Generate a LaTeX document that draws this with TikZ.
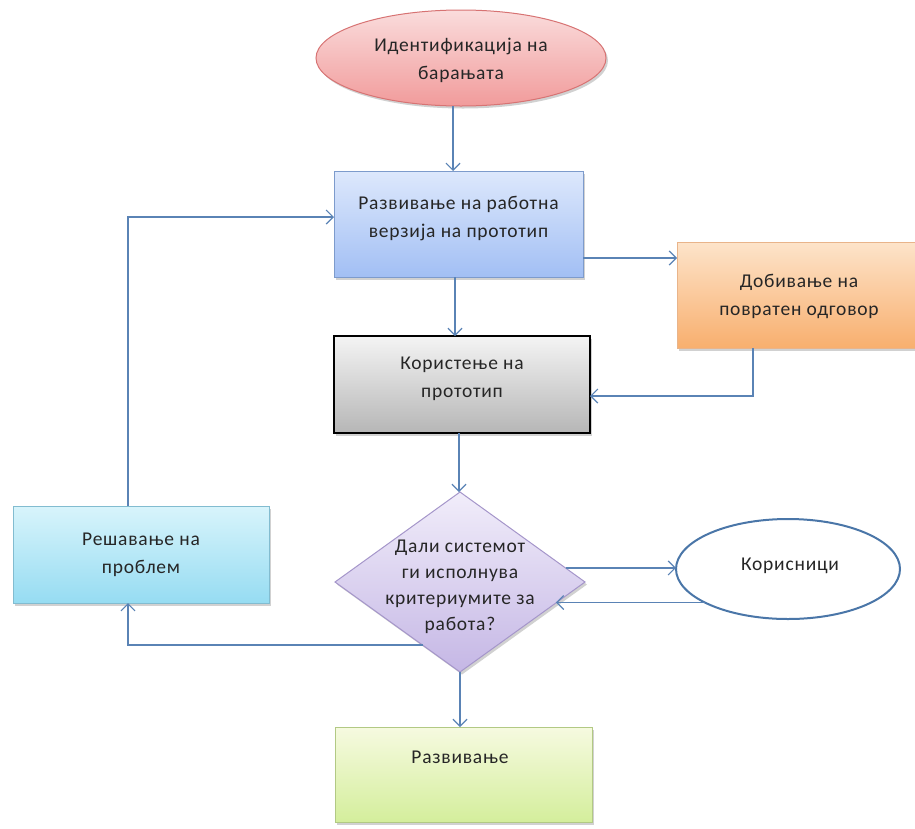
\documentclass[tikz,border=0pt]{standalone}
\usepackage{fontspec}
\setmainfont{Carlito}[LetterSpace=4]
\usetikzlibrary{shapes.geometric,arrows.meta,calc,shadows}
\definecolor{arrc}{HTML}{5A83B5}
\definecolor{pinkT}{HTML}{FADCDC}
\definecolor{pinkB}{HTML}{F19B9B}
\definecolor{pinkD}{HTML}{D77373}
\definecolor{bluT}{HTML}{DDE8FC}
\definecolor{bluB}{HTML}{A2BFF4}
\definecolor{bluD}{HTML}{7D9BCC}
\definecolor{orT}{HTML}{FDE4CA}
\definecolor{orB}{HTML}{F8AF6E}
\definecolor{orD}{HTML}{E9B48A}
\definecolor{grT}{HTML}{F4F4F4}
\definecolor{grB}{HTML}{B6B6B6}
\definecolor{puT}{HTML}{F1EDFA}
\definecolor{puB}{HTML}{C5B7E5}
\definecolor{puD}{HTML}{A596CA}
\definecolor{cyT}{HTML}{D8F4FB}
\definecolor{cyB}{HTML}{96DCF2}
\definecolor{cyD}{HTML}{82BCD0}
\definecolor{gnT}{HTML}{F6FAE0}
\definecolor{gnB}{HTML}{D4EE9C}
\definecolor{gnD}{HTML}{B2C984}
\definecolor{corD}{HTML}{4A76A8}
\begin{document}
\begin{tikzpicture}[x=1pt,y=-1pt,
  every node/.style={font=\fontsize{19.5}{28}\selectfont, text=black!85, align=center},
  arr/.style={draw=arrc, line width=1.2pt, -{Straight Barb[length=7pt,width=14pt]}},
  box/.style={rectangle, inner sep=0pt, outer sep=0pt, line width=1pt,
    drop shadow={shadow xshift=2pt,shadow yshift=-2.5pt,opacity=0.3,fill=black!60}},
  lbl/.style={inner sep=0pt},
]
\useasboundingbox (0,0) rectangle (915,828);

% shapes
\node[box, ellipse, minimum width=290pt, minimum height=96pt,
      top color=pinkT, bottom color=pinkB, draw=pinkD] (ident) at (461,58) {};
\node[lbl] (identt) at (461,60) {Идентификација на\\барањата};

\node[box, minimum width=249pt, minimum height=106pt,
      top color=bluT, bottom color=bluB, draw=bluD] (dev) at (458.5,224) {};
\node[lbl] (devt) at (458.5,219) {Развивање на работна\\верзија на прототип};

\node[box, minimum width=250pt, minimum height=106pt,
      top color=orT, bottom color=orB, draw=orD] (fb) at (802,295) {};
\node[lbl] (fbt) at (799,296) {Добивање на\\повратен одговор};

\node[box, minimum width=256pt, minimum height=97pt,
      top color=grT, bottom color=grB, draw=black, line width=1.3pt] (use) at (462,384.5) {};
\node[lbl] (uset) at (462,379) {Користење на\\прототип};

\node[box, diamond, minimum width=250pt, minimum height=180pt,
      top color=puT, bottom color=puB, draw=puD] (dia) at (460,582) {};
\node[lbl, font=\fontsize{19.5}{26}\selectfont] (diat) at (460,587) {Дали системот\\ги исполнува\\критериумите за\\работа?};

\node[ellipse, minimum width=224pt, minimum height=100pt, inner sep=0pt, outer sep=0pt,
      fill=white, draw=corD, line width=2pt] (cor) at (788,569) {};
\node[lbl] (cort) at (790,566) {Корисници};

\node[box, minimum width=256pt, minimum height=97pt,
      top color=cyT, bottom color=cyB, draw=cyD] (sol) at (141,554.5) {};
\node[lbl] (solt) at (141,555) {Решавање на\\проблем};

\node[box, minimum width=257pt, minimum height=95pt,
      top color=gnT, bottom color=gnB, draw=gnD] (grn) at (463.5,774.5) {};
\node[lbl] (grnt) at (460,757) {Развивање};

% connectors
\coordinate (a0) at ($(ident.south)+(-8,0)$);
\draw[arr] (a0) -- (a0 |- dev.north);

\coordinate (a1) at ($(dev.east)+(0,34)$);
\draw[arr] (a1) -- (a1 -| fb.west);

\coordinate (a2) at ($(dev.south)+(-3.5,0)$);
\draw[arr] (a2) -- (a2 |- use.north);

\coordinate (a3) at ($(fb.south)+(-49,0)$);
\coordinate (a3e) at ($(use.east)+(0,11.5)$);
\draw[arr] (a3) |- (a3e);

\coordinate (a4) at ($(use.south)+(-3,0)$);
\draw[arr] (a4) -- (a4 |- dia.north);

\coordinate (d1) at ($(dia.east)!0.156!(dia.north)$);
\draw[arr] (d1) -- (d1 -| cor.west);

\coordinate (d2) at ($(dia.east)!0.233!(dia.south)$);
\draw[arr] (cor.202.5) -- (cor.202.5 -| d2);

\coordinate (d3) at ($(dia.west)!0.7!(dia.south)$);
\coordinate (s1) at ($(sol.south)+(-13,0)$);
\draw[arr] (d3) -| (s1);

\coordinate (s2) at ($(sol.north)+(-13,0)$);
\coordinate (v1) at ($(dev.west)+(0,-7)$);
\draw[arr] (s2) |- (v1);

\draw[arr] (dia.south) -- (dia.south |- grn.north);
\end{tikzpicture}
\end{document}
